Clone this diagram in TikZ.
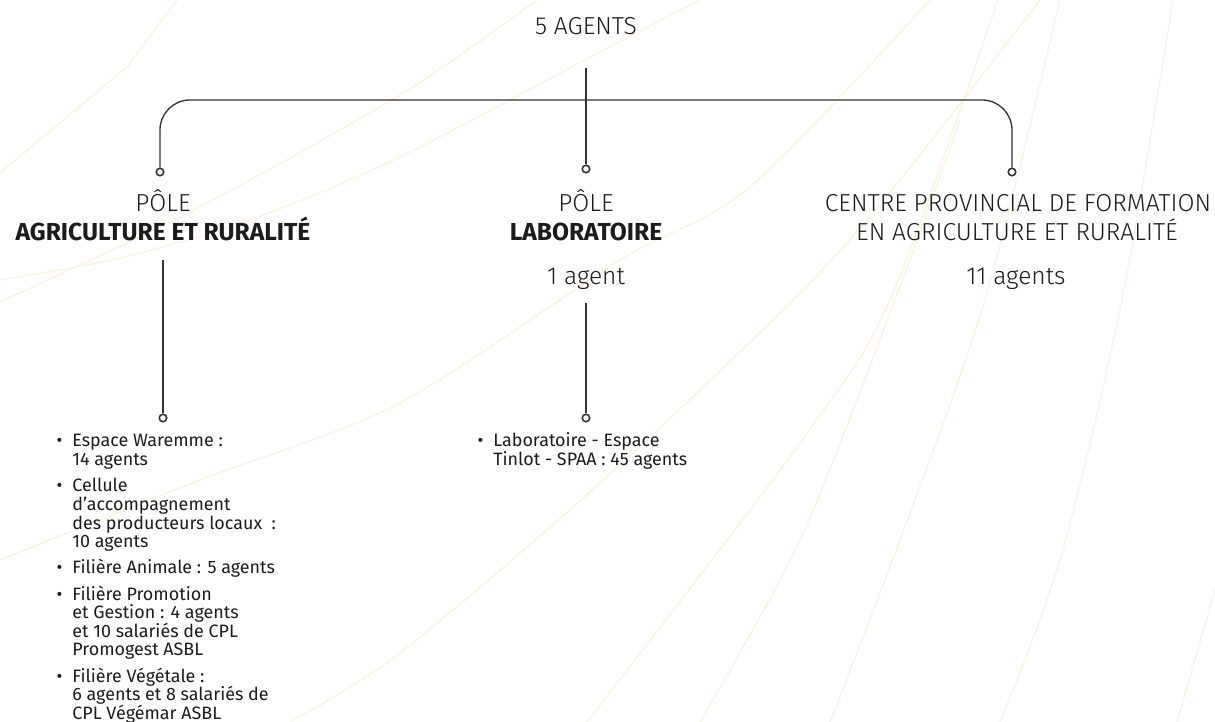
\documentclass[tikz,border=0pt]{standalone}
\usepackage{fontspec}
\setmainfont{Fira Sans Light}[BoldFont={Fira Sans Bold}]
\newfontfamily\listfont{Fira Sans}
\usepackage{enumitem}
\definecolor{ink}{HTML}{1C1C1C}
\definecolor{linegrey}{HTML}{333333}
\definecolor{decoline}{HTML}{FDF1DF}

\begin{document}
\begin{tikzpicture}[x=0.02cm, y=-0.02cm,
  link/.style={draw=linegrey, line width=0.75pt},
  joint/.style={circle, draw=linegrey, line width=0.9pt, fill=white, inner sep=0pt, minimum size=0.15cm},
  headtext/.style={font=\fontsize{14}{16.5}\selectfont, text=ink, inner sep=0pt, anchor=base},
  listtext/.style={font=\listfont\fontsize{10.2}{10.6}\selectfont, text=ink, inner sep=0pt, anchor=base west},
  deco/.style={draw=decoline, line width=0.7pt}]
% Cadre
\fill[white] (0,0) rectangle (1215,722);
\useasboundingbox (0,0) rectangle (1215,722);
% Lignes de fond
\draw[deco] (0,173) -- (127,67) -- (177,0);
\draw[deco] plot[smooth] coordinates {(0,302) (190,212) (400,95) (537,0)};
\draw[deco] plot[smooth] coordinates {(0,280) (120,258) (250,220) (400,157) (600,52) (700,0)};
\draw[deco] plot[smooth] coordinates {(0,560) (200,480) (400,403) (620,260) (750,187) (930,0)};
\draw[deco] plot[smooth] coordinates {(1040,0) (900,180) (800,293) (600,483) (400,653) (290,722)};
\draw[deco] plot[smooth] coordinates {(998,0) (890,300) (800,443) (587,722)};
\draw[deco] plot[smooth] coordinates {(960,120) (895,300) (800,540) (700,722)};
\draw[deco] plot[smooth] coordinates {(1060,0) (985,300) (900,540) (830,722)};
\draw[deco] plot[smooth] coordinates {(1173,0) (1122,300) (1060,560) (1000,722)};
\draw[deco] (1215,590) -- (1177,722);
% Sommet
\node[headtext] (agents) at (586,35) {5 AGENTS};
\coordinate (stem) at (586,68);
\coordinate (bar) at (586,100);
% Points de jonction
\node[joint] (c1) at (160,172) {};
\node[joint] (c2) at (586,169) {};
\node[joint] (c3) at (1012,172) {};
\node[joint] (d1) at (163,418) {};
\node[joint] (d2) at (586,418) {};
% Poles
\node[headtext] (pole1) at (163,212) {PÔLE};
\node[headtext] (pole1name) at (163,241) {\textbf{AGRICULTURE ET RURALITÉ}};
\node[headtext] (pole2) at (586,212) {PÔLE};
\node[headtext] (pole2name) at (586,241) {\textbf{LABORATOIRE}};
\node[headtext] (labcount) at (586,285) {1 agent};
\node[headtext] (centre) at (1018,212) {CENTRE PROVINCIAL DE FORMATION};
\node[headtext] (centrename) at (1017,241) {EN AGRICULTURE ET RURALITÉ};
\node[headtext] (centrecount) at (1016,285) {11 agents};
% Liaisons
\coordinate (s1) at (163,260);
\coordinate (s2) at (586,303);
\draw[link] (stem) -- (c2);
\draw[link, rounded corners=0.6cm] (c1) |- (bar) -| (c3);
\draw[link] (s1) -- (d1);
\draw[link] (s2) -- (d2);
% Listes
\node[listtext] (list1) at (56,447) {\begin{minipage}[t]{5.2cm}
\begin{itemize}[leftmargin=0.32cm, labelsep=0.2cm, itemsep=4.3pt, parsep=0pt, topsep=0pt, label=\textbullet]
\item Espace Waremme :\\14 agents
\item Cellule\\d’accompagnement\\des producteurs locaux~ :\\10 agents
\item Filière Animale : 5 agents
\item Filière Promotion\\et Gestion : 4 agents\\et 10 salariés de CPL\\Promogest ASBL
\item Filière Végétale :\\6 agents et 8 salariés de\\CPL Végémar ASBL
\end{itemize}\end{minipage}};
\node[listtext] (list2) at (477,447) {\begin{minipage}[t]{5.2cm}
\begin{itemize}[leftmargin=0.32cm, labelsep=0.2cm, itemsep=4.3pt, parsep=0pt, topsep=0pt, label=\textbullet]
\item Laboratoire - Espace\\Tinlot - SPAA : 45 agents
\end{itemize}\end{minipage}};
\end{tikzpicture}
\end{document}
